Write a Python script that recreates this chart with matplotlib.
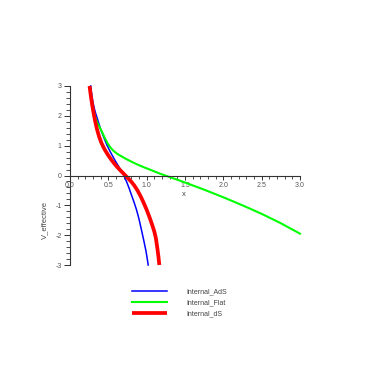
import matplotlib
matplotlib.use("Agg")
import matplotlib.pyplot as plt
from matplotlib.ticker import MultipleLocator

plt.rcParams["font.family"] = ["Liberation Sans", "DejaVu Sans"]

# Data
ads_x = [0.27, 0.28, 0.29, 0.30, 0.315, 0.33, 0.36, 0.40, 0.44, 0.48, 0.52, 0.56, 0.60, 0.64,
         0.68, 0.71, 0.74, 0.77, 0.80, 0.84, 0.87, 0.90, 0.93, 0.96, 0.99, 1.005, 1.02]
ads_y = [3.0, 2.78, 2.6, 2.45, 2.27, 2.12, 1.88, 1.55, 1.28, 1.03, 0.82, 0.63, 0.45, 0.28,
         0.11, -0.04, -0.22, -0.42, -0.64, -0.93, -1.17, -1.46, -1.80, -2.15, -2.52, -2.75, -3.0]

flat_x = [0.31, 0.33, 0.36, 0.41, 0.45, 0.49, 0.53, 0.57, 0.62, 0.70, 0.78, 0.86, 0.95, 1.04,
          1.14, 1.24, 1.37, 1.5, 1.75, 2.0, 2.25, 2.5, 2.75, 3.0]
flat_y = [2.13, 1.95, 1.75, 1.5, 1.28, 1.08, 0.93, 0.82, 0.72, 0.60, 0.49, 0.39, 0.29, 0.20,
          0.095, 0.0, -0.115, -0.235, -0.475, -0.73, -1.0, -1.285, -1.6, -1.95]

ds_x = [0.255, 0.27, 0.285, 0.30, 0.325, 0.35, 0.38, 0.41, 0.45, 0.50, 0.55, 0.60, 0.65, 0.70,
        0.76, 0.80, 0.84, 0.88, 0.92, 0.96, 1.00, 1.04, 1.07, 1.10, 1.12, 1.14, 1.155, 1.165]
ds_y = [3.0, 2.7, 2.44, 2.2, 1.86, 1.57, 1.30, 1.09, 0.88, 0.67, 0.49, 0.33, 0.19, 0.06,
        -0.10, -0.21, -0.34, -0.50, -0.69, -0.91, -1.15, -1.42, -1.64, -1.88, -2.1, -2.45, -2.75, -3.0]

labels = ["Internal_AdS", "Internal_Flat", "Internal_dS"]
xticks = [0.0, 0.5, 1.0, 1.5, 2.0, 2.5, 3.0]
yticks = [-3, -2, -1, 0, 1, 2, 3]

W = 382
fig = plt.figure(figsize=(3.82, 3.82), dpi=100)
ax = fig.add_axes([70 / W, (W - 265) / W, 230 / W, 179 / W])
ax.set_xlim(0, 3)
ax.set_ylim(-3, 3)

l1, = ax.plot(ads_x, ads_y, color=(0, 0, 1), lw=1.1, label=labels[0])
l2, = ax.plot(flat_x, flat_y, color=(0, 1, 0), lw=1.5, label=labels[1])
l3, = ax.plot(ds_x, ds_y, color=(1, 0, 0), lw=2.7, label=labels[2], solid_capstyle="butt")
for l in (l1, l2, l3):
    l.set_clip_on(False)
    l.set_solid_joinstyle("round")

for s in ("top", "right"):
    ax.spines[s].set_visible(False)
ax.spines["left"].set_position(("data", 0))
ax.spines["bottom"].set_position(("data", 0))
for s in ("left", "bottom"):
    ax.spines[s].set_linewidth(0.8)
    ax.spines[s].set_color("#333333")

ax.set_xticks(xticks)
ax.set_xticklabels([f"{v:.1f}" for v in xticks])
ax.set_yticks(yticks)
ax.set_yticklabels([str(v) for v in yticks])
ax.xaxis.set_minor_locator(MultipleLocator(0.1))
ax.yaxis.set_minor_locator(MultipleLocator(0.2))
ax.tick_params(axis="x", which="major", direction="out", length=3.2, width=0.7,
               labelsize=5, pad=1.5, colors="#333333", labelcolor="#555555")
ax.tick_params(axis="x", which="minor", direction="out", length=2.2, width=0.6, colors="#333333")
ax.tick_params(axis="y", which="major", direction="out", length=4.5, width=0.7,
               labelsize=5, pad=1.5, colors="#333333", labelcolor="#555555")
ax.tick_params(axis="y", which="minor", direction="out", length=3.2, width=0.6, colors="#333333")

ax.set_xlabel("x", fontsize=5.5, color="#444444")
ax.xaxis.set_label_coords(1.49 / 3, (265 - 195) / 179)
ax.xaxis.label.set_verticalalignment("center")
ax.set_ylabel("V_effective", fontsize=5.5, color="#444444")
ax.yaxis.set_label_coords((45 - 70) / 230, (265 - 220) / 179)
ax.yaxis.label.set_verticalalignment("center")

fig.legend(handles=[l1, l2, l3], labels=labels, loc="upper left",
           bbox_to_anchor=(132 / W, 1 - 288 / W), frameon=False, fontsize=5,
           handlelength=5.0, handletextpad=2.8, labelspacing=0.6,
           borderaxespad=0, borderpad=0, labelcolor="#444444")

fig.savefig("out.png", dpi=100)
